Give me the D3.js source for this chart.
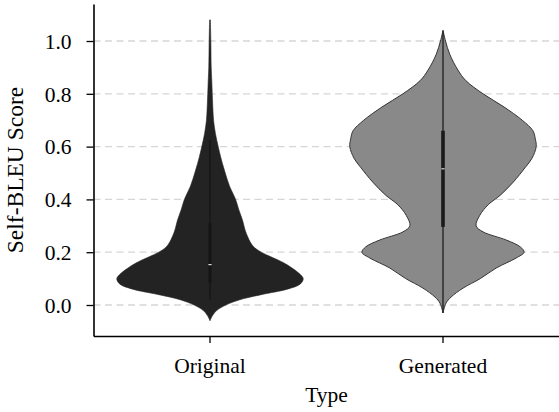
<!DOCTYPE html>
<html>
<head>
<meta charset="utf-8">
<script src="https://cdn.jsdelivr.net/npm/d3@7"></script>
<style>
  html, body { margin: 0; padding: 0; background: #fff; }
  svg { display: block; }
  text { font-family: "Liberation Serif", "Times New Roman", serif; fill: #000; }
</style>
</head>
<body>
<svg id="chart" width="559" height="412"></svg>
<script>
// ---- data ----
const categories = ["Original", "Generated"];
const yTicks = [0.0, 0.2, 0.4, 0.6, 0.8, 1.0];

// violin profile: score values and relative density (max = 1)
const originalValues = [-0.06, -0.04, -0.02, 0.0, 0.02, 0.04, 0.06, 0.08, 0.10, 0.12, 0.14, 0.16, 0.18, 0.20, 0.22, 0.24, 0.28, 0.32, 0.36, 0.40, 0.45, 0.51, 0.56, 0.60, 0.65, 0.70, 0.75, 0.80, 0.85, 0.90, 1.00, 1.08];
const originalDensity = [0.0, 0.027, 0.075, 0.17, 0.32, 0.56, 0.83, 0.97, 1.0, 0.955, 0.88, 0.79, 0.67, 0.55, 0.47, 0.43, 0.38, 0.35, 0.31, 0.275, 0.21, 0.155, 0.115, 0.088, 0.058, 0.038, 0.03, 0.024, 0.019, 0.013, 0.009, 0.004];

const generatedValues = [-0.03, 0.007, 0.03, 0.064, 0.10, 0.14, 0.178, 0.20, 0.22, 0.246, 0.277, 0.30, 0.34, 0.38, 0.416, 0.466, 0.52, 0.556, 0.60, 0.63, 0.66, 0.70, 0.75, 0.80, 0.85, 0.89, 0.95, 1.00, 1.04];
const generatedDensity = [0.0, 0.032, 0.086, 0.215, 0.40, 0.57, 0.785, 0.87, 0.83, 0.68, 0.43, 0.355, 0.395, 0.485, 0.615, 0.755, 0.88, 0.955, 1.0, 0.99, 0.965, 0.85, 0.655, 0.43, 0.245, 0.16, 0.072, 0.027, 0.0];

// inner box summaries: [whiskerLow, q1, median, q3, whiskerHigh]
const originalBox = [0.02, 0.083, 0.153, 0.31, 0.625];
const generatedBox = [-0.03, 0.296, 0.516, 0.66, 1.04];

const fills = ["#232323", "#898989"];
const strokes = ["#232323", "#333333"];

// ---- layout ----
const svg = d3.select("#chart");
const mLeft = 93.5, mRight = 559.5, mTop = 4, mBottom = 336;

const x = d3.scaleBand().domain(categories).range([mLeft, mRight]).padding(0);
const y = d3.scaleLinear().domain([-0.1174, 1.1402]).range([mBottom, mTop]);

const violinHalf = x.bandwidth() * 0.4;

// grid
svg.append("g").selectAll("line").data(yTicks).join("line")
  .attr("x1", mLeft).attr("x2", mRight)
  .attr("y1", d => y(d)).attr("y2", d => y(d))
  .attr("stroke", "#d6d6d6").attr("stroke-width", 1.3)
  .attr("stroke-dasharray", "7,4.5");

const series = [
  { name: categories[0], values: originalValues, dens: originalDensity, box: originalBox, i: 0 },
  { name: categories[1], values: generatedValues, dens: generatedDensity, box: generatedBox, i: 1 }
];

const g = svg.append("g");
series.forEach(s => {
  const cx = x(s.name) + x.bandwidth() / 2;
  const pts = s.values.map((v, k) => ({ v, d: s.dens[k] }));
  const area = d3.area()
    .y(p => y(p.v))
    .x0(p => cx - p.d * violinHalf)
    .x1(p => cx + p.d * violinHalf)
    .curve(d3.curveCatmullRom.alpha(0.5));
  g.append("path").attr("d", area(pts))
    .attr("fill", fills[s.i]).attr("stroke", strokes[s.i])
    .attr("stroke-width", s.i === 0 ? 0.6 : 1.0)
    .attr("stroke-linejoin", "round");

  const [wl, q1, med, q3, wh] = s.box;
  g.append("line").attr("x1", cx).attr("x2", cx)
    .attr("y1", y(wl)).attr("y2", y(wh))
    .attr("stroke", s.i === 0 ? "#151515" : "#1e1e1e").attr("stroke-width", 1.3);
  g.append("line").attr("x1", cx).attr("x2", cx)
    .attr("y1", y(q1)).attr("y2", y(q3))
    .attr("stroke", s.i === 0 ? "#151515" : "#1a1a1a").attr("stroke-width", s.i === 0 ? 3 : 3.6);
  g.append("line").attr("x1", cx - 1.6).attr("x2", cx + 1.6)
    .attr("y1", y(med)).attr("y2", y(med))
    .attr("stroke", "#d8d8d8").attr("stroke-width", 1.2);
});

// axes
const yAxis = d3.axisLeft(y).tickValues(yTicks).tickFormat(d3.format(".1f"))
  .tickSize(7).tickSizeOuter(0).tickPadding(15);
const ya = svg.append("g").attr("transform", `translate(${mLeft},0)`).call(yAxis);
ya.attr("font-family", null);
ya.selectAll("text").attr("font-size", "21.5px").attr("dy", "0.34em")
  .style("font-family", '"Liberation Serif", serif');
ya.selectAll("line").attr("stroke", "#000").attr("stroke-width", 1.3);
ya.select(".domain").attr("stroke", "#000").attr("stroke-width", 1.6);

const xAxis = d3.axisBottom(x).tickSize(7).tickSizeOuter(0).tickPadding(15);
const xa = svg.append("g").attr("transform", `translate(0,${mBottom})`).call(xAxis);
xa.attr("font-family", null);
xa.selectAll("text").attr("font-size", "21.5px")
  .style("font-family", '"Liberation Serif", serif');
xa.selectAll("line").attr("stroke", "#000").attr("stroke-width", 1.3);
xa.select(".domain").attr("stroke", "#000").attr("stroke-width", 1.6);

// labels
svg.append("text").attr("x", (mLeft + mRight) / 2).attr("y", 402)
  .attr("text-anchor", "middle").attr("font-size", "21.5px").text("Type");
svg.append("text").attr("transform", `translate(23,${(mTop + mBottom) / 2}) rotate(-90)`)
  .attr("text-anchor", "middle").attr("font-size", "23.5px").text("Self-BLEU Score");
</script>
</body>
</html>
